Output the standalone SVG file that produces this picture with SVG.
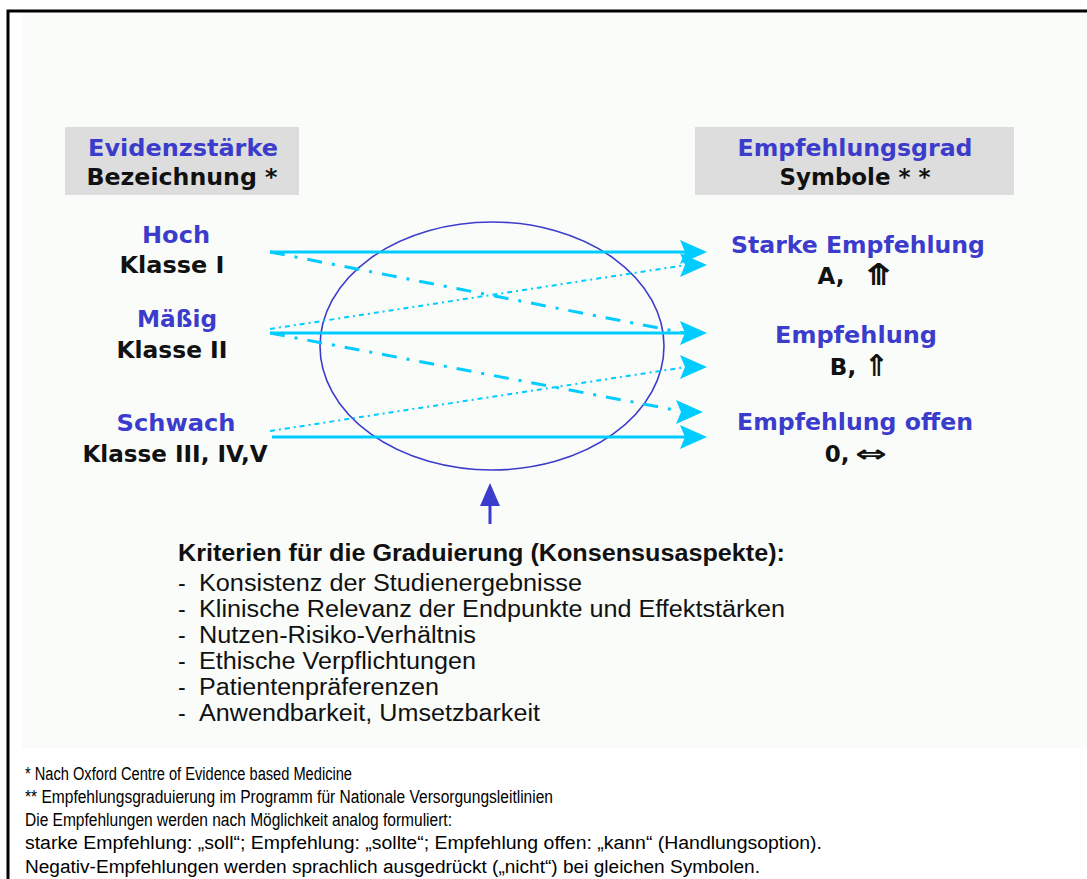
<svg xmlns="http://www.w3.org/2000/svg" width="1087" height="879" viewBox="0 0 1087 879">
<style>
.bg{fill:#fafcfa}
.box{fill:#dddddd}
.hb{font-family:"DejaVu Sans",sans-serif;font-weight:bold;font-size:23px;text-anchor:middle}
.sym{font-family:"DejaVu Sans",sans-serif;font-weight:bold;fill:#111}
.blue{fill:#3c3ccc}
.blk{fill:#111}
.crit{font-family:"Liberation Sans",Arial,sans-serif;font-size:23px;fill:#111}
.foot{font-family:"Liberation Sans",Arial,sans-serif;font-size:18px;fill:#000}
.sol{stroke:#00ccff;stroke-width:3;fill:none}
.dd{stroke:#00ccff;stroke-width:3;fill:none;stroke-dasharray:15 10 3 10}
.dt{stroke:#00ccff;stroke-width:2;fill:none;stroke-dasharray:5 4 2 4}
.head{fill:#00ccff}
</style>
<defs>
<path id="ah" d="M0,0 L-27,-12 L-22,0 L-27,12 Z"/>
</defs>
<rect x="0" y="0" width="1087" height="879" fill="#ffffff"/>
<rect class="bg" x="22" y="12" width="1065" height="736"/>
<path d="M8,879 V11 H1087" stroke="#000" stroke-width="3" fill="none"/>

<g id="header-left">
<rect class="box" x="65" y="127" width="234" height="68"/>
<text class="hb blue" x="183" y="156" textLength="190" lengthAdjust="spacingAndGlyphs">Evidenzstärke</text>
<text class="hb blk" x="182" y="185" textLength="191" lengthAdjust="spacingAndGlyphs">Bezeichnung *</text>
</g>
<g id="header-right">
<rect class="box" x="695" y="127" width="319" height="68"/>
<text class="hb blue" x="855" y="156" textLength="235" lengthAdjust="spacingAndGlyphs">Empfehlungsgrad</text>
<text class="hb blk" x="855" y="185" textLength="151" lengthAdjust="spacingAndGlyphs">Symbole * *</text>
</g>

<g id="level-hoch">
<text class="hb blue" x="176" y="243" textLength="68" lengthAdjust="spacingAndGlyphs">Hoch</text>
<text class="hb blk" x="172" y="273" textLength="105" lengthAdjust="spacingAndGlyphs">Klasse I</text>
</g>
<g id="level-maessig">
<text class="hb blue" x="177" y="327" textLength="80" lengthAdjust="spacingAndGlyphs">Mäßig</text>
<text class="hb blk" x="172" y="358" textLength="111" lengthAdjust="spacingAndGlyphs">Klasse II</text>
</g>
<g id="level-schwach">
<text class="hb blue" x="176" y="431" textLength="119" lengthAdjust="spacingAndGlyphs">Schwach</text>
<text class="hb blk" x="175" y="462" textLength="185" lengthAdjust="spacingAndGlyphs">Klasse III, IV,V</text>
</g>

<g id="grade-a">
<text class="hb blue" x="858" y="253" textLength="254" lengthAdjust="spacingAndGlyphs">Starke Empfehlung</text>
<text class="hb blk" x="831" y="284">A,</text>
<text class="sym" x="863" y="285" font-size="30" textLength="32" lengthAdjust="spacingAndGlyphs">⤊</text>
</g>
<g id="grade-b">
<text class="hb blue" x="856" y="343" textLength="162" lengthAdjust="spacingAndGlyphs">Empfehlung</text>
<text class="hb blk" x="843" y="375">B,</text>
<text class="sym" x="864" y="376" font-size="30">⇑</text>
</g>
<g id="grade-0">
<text class="hb blue" x="855" y="430" textLength="236" lengthAdjust="spacingAndGlyphs">Empfehlung offen</text>
<text class="hb blk" x="837" y="462">0,</text>
<text class="sym" x="855" y="462" font-size="24" textLength="32" lengthAdjust="spacingAndGlyphs">⇔</text>
</g>

<g id="consensus-ellipse">
<ellipse cx="492" cy="346" rx="172" ry="124" fill="none" stroke="#3c3ccc" stroke-width="1.6"/>
</g>

<g id="connectors">
<line class="sol" x1="270" y1="252" x2="690" y2="252"/>
<line class="dd" x1="270" y1="252" x2="684" y2="333"/>
<line class="dt" x1="270" y1="329" x2="686" y2="265"/>
<line class="sol" x1="270" y1="333" x2="690" y2="333"/>
<line class="dd" x1="270" y1="333" x2="680" y2="411"/>
<line class="dt" x1="270" y1="431" x2="686" y2="367"/>
<line class="sol" x1="272" y1="437" x2="690" y2="437"/>
<use href="#ah" class="head" x="707" y="252"/>
<use href="#ah" class="head" x="707" y="265"/>
<use href="#ah" class="head" x="707" y="333"/>
<use href="#ah" class="head" x="707" y="367"/>
<use href="#ah" class="head" x="703" y="412"/>
<use href="#ah" class="head" x="707" y="437"/>
<line x1="490" y1="503" x2="490" y2="524" stroke="#3c3ccc" stroke-width="3"/>
<polygon points="490,483 480,506 500,506" fill="#3c3ccc"/>
</g>

<g id="criteria">
<text class="crit" x="178" y="561" font-weight="bold" textLength="607" lengthAdjust="spacingAndGlyphs">Kriterien für die Graduierung (Konsensusaspekte):</text>
<text class="crit" x="178" y="591">-</text>
<text class="crit" x="199" y="591" textLength="383" lengthAdjust="spacingAndGlyphs">Konsistenz der Studienergebnisse</text>
<text class="crit" x="178" y="617">-</text>
<text class="crit" x="199" y="617" textLength="586" lengthAdjust="spacingAndGlyphs">Klinische Relevanz der Endpunkte und Effektstärken</text>
<text class="crit" x="178" y="643">-</text>
<text class="crit" x="199" y="643" textLength="277" lengthAdjust="spacingAndGlyphs">Nutzen-Risiko-Verhältnis</text>
<text class="crit" x="178" y="669">-</text>
<text class="crit" x="199" y="669" textLength="277" lengthAdjust="spacingAndGlyphs">Ethische Verpflichtungen</text>
<text class="crit" x="178" y="695">-</text>
<text class="crit" x="199" y="695" textLength="240" lengthAdjust="spacingAndGlyphs">Patientenpräferenzen</text>
<text class="crit" x="178" y="721">-</text>
<text class="crit" x="199" y="721" textLength="341" lengthAdjust="spacingAndGlyphs">Anwendbarkeit, Umsetzbarkeit</text>
</g>

<g id="footnotes">
<text class="foot" x="25" y="780" textLength="327" lengthAdjust="spacingAndGlyphs">* Nach Oxford Centre of Evidence based Medicine</text>
<text class="foot" x="25" y="803" textLength="528" lengthAdjust="spacingAndGlyphs">** Empfehlungsgraduierung im Programm für Nationale Versorgungsleitlinien</text>
<text class="foot" x="25" y="826" textLength="427" lengthAdjust="spacingAndGlyphs">Die Empfehlungen werden nach Möglichkeit analog formuliert:</text>
<text class="foot" x="25" y="849" textLength="797" lengthAdjust="spacingAndGlyphs">starke Empfehlung: „soll“; Empfehlung: „sollte“; Empfehlung offen: „kann“ (Handlungsoption).</text>
<text class="foot" x="25" y="873" textLength="735" lengthAdjust="spacingAndGlyphs">Negativ-Empfehlungen werden sprachlich ausgedrückt („nicht“) bei gleichen Symbolen.</text>
</g>
</svg>
